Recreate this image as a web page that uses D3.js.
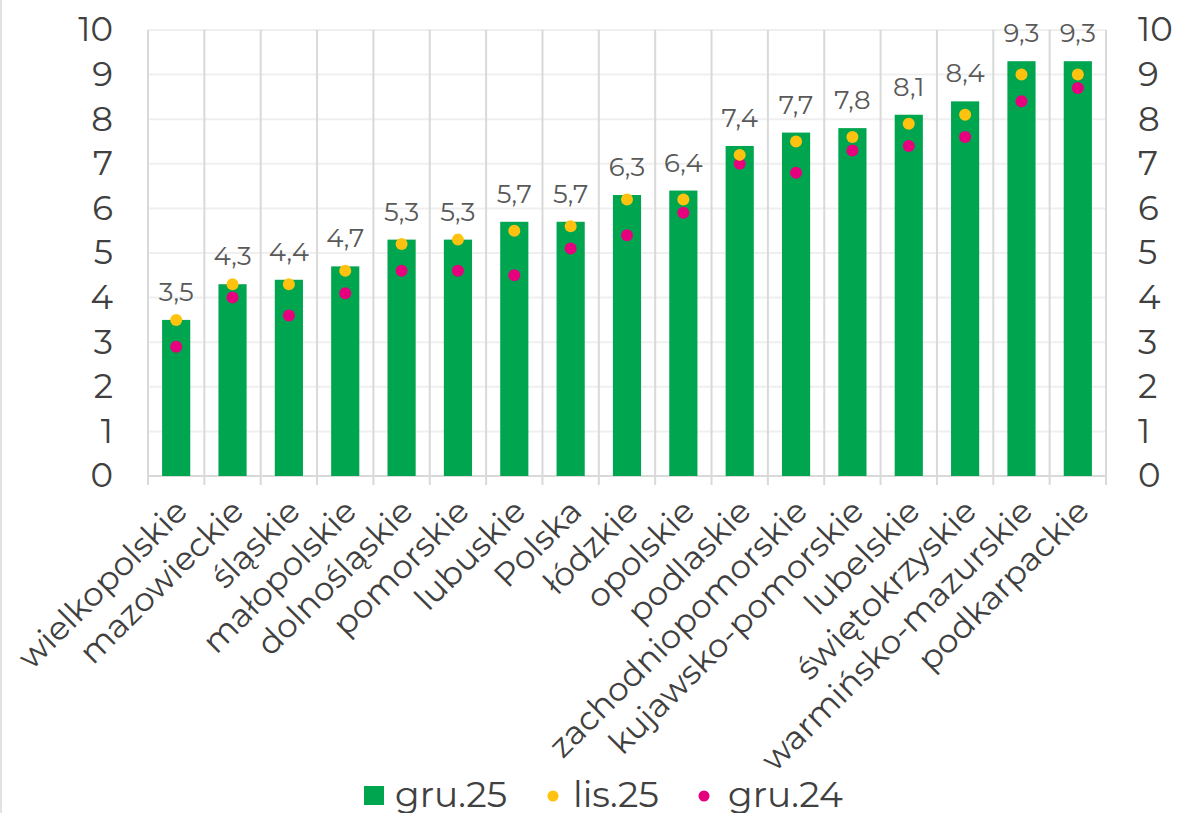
<!DOCTYPE html>
<html>
<head>
<meta charset="utf-8">
<script src="https://cdn.jsdelivr.net/npm/d3@7"></script>
<style>
  html, body { margin: 0; padding: 0; background: #fff; }
  svg { display: block; }
  text { font-family: "Montserrat", "Open Sans", sans-serif; }
</style>
</head>
<body>
<svg id="chart" width="1178" height="813"></svg>
<script>
const categories = ["wielkopolskie","mazowieckie","śląskie","małopolskie","dolnośląskie","pomorskie","lubuskie","Polska","łódzkie","opolskie","podlaskie","zachodniopomorskie","kujawsko-pomorskie","lubelskie","świętokrzyskie","warmińsko-mazurskie","podkarpackie"];
const gru25 = [3.5,4.3,4.4,4.7,5.3,5.3,5.7,5.7,6.3,6.4,7.4,7.7,7.8,8.1,8.4,9.3,9.3];
const lis25 = [3.5,4.3,4.3,4.6,5.2,5.3,5.5,5.6,6.2,6.2,7.2,7.5,7.6,7.9,8.1,9.0,9.0];
const gru24 = [2.9,4.0,3.6,4.1,4.6,4.6,4.5,5.1,5.4,5.9,7.0,6.8,7.3,7.4,7.6,8.4,8.7];
const yTicks = [0,1,2,3,4,5,6,7,8,9,10];
const seriesNames = ["gru.25","lis.25","gru.24"];

const colors = { bar: "#00A64F", lis: "#FFC20E", gru24: "#E6007E" };
const svg = d3.select("#chart");
const pLeft = 148, pRight = 1106, pTop = 30, pBottom = 476;

const x = d3.scaleBand().domain(categories).range([pLeft, pRight]).paddingInner(0.5).paddingOuter(0.25);
const xb = d3.scaleLinear().domain([0, categories.length]).range([pLeft, pRight]);
const y = d3.scaleLinear().domain([0, 10]).range([pBottom, pTop]);
const pl = d3.formatLocale({decimal: ",", thousands: " ", grouping: [3], currency: ["", " zł"]});
const fmt = pl.format(".1f");

// chart border line at left
svg.append("line").attr("x1", 1).attr("x2", 1).attr("y1", 0).attr("y2", 813)
  .attr("stroke", "#d9d9d9").attr("stroke-width", 1.5);

// horizontal gridlines
svg.append("g").selectAll("line").data(yTicks.filter(d => d > 0)).join("line")
  .attr("x1", pLeft).attr("x2", pRight)
  .attr("y1", d => y(d)).attr("y2", d => y(d))
  .attr("stroke", "#efefef").attr("stroke-width", 2);

// vertical gridlines + ticks
const bounds = d3.range(categories.length + 1);
svg.append("g").selectAll("line").data(bounds).join("line")
  .attr("x1", d => xb(d)).attr("x2", d => xb(d))
  .attr("y1", pTop).attr("y2", pBottom + 9)
  .attr("stroke", "#d9d9d9").attr("stroke-width", 2);

// x axis line
svg.append("line").attr("x1", pLeft).attr("x2", pRight).attr("y1", pBottom).attr("y2", pBottom)
  .attr("stroke", "#d9d9d9").attr("stroke-width", 2);

// bars
svg.append("g").selectAll("rect").data(categories).join("rect")
  .attr("x", d => x(d)).attr("width", x.bandwidth())
  .attr("y", (d, i) => y(gru25[i])).attr("height", (d, i) => y(0) - y(gru25[i]))
  .attr("fill", colors.bar);

// data labels
svg.append("g").selectAll("text").data(categories).join("text")
  .attr("x", d => x(d) + x.bandwidth() / 2)
  .attr("y", (d, i) => y(gru25[i]) - 19)
  .attr("text-anchor", "middle")
  .attr("font-size", 26).attr("fill", "#595959")
  .text((d, i) => fmt(gru25[i]));

// dots gru24
svg.append("g").selectAll("circle").data(categories).join("circle")
  .attr("cx", d => x(d) + x.bandwidth() / 2)
  .attr("cy", (d, i) => y(gru24[i])).attr("r", 6)
  .attr("fill", colors.gru24);
// dots lis25
svg.append("g").selectAll("circle").data(categories).join("circle")
  .attr("cx", d => x(d) + x.bandwidth() / 2)
  .attr("cy", (d, i) => y(lis25[i])).attr("r", 6)
  .attr("fill", colors.lis);

// y axes
const yl = svg.append("g").attr("transform", `translate(${pLeft},0)`)
  .call(d3.axisLeft(y).tickValues(yTicks).tickSize(0).tickPadding(35).tickFormat(d3.format("d")));
const yr = svg.append("g").attr("transform", `translate(${pRight},0)`)
  .call(d3.axisRight(y).tickValues(yTicks).tickSize(0).tickPadding(32).tickFormat(d3.format("d")));
[yl, yr].forEach(g => {
  g.select(".domain").remove();
  g.selectAll("text").attr("font-size", 34).attr("fill", "#404040")
    .attr("font-family", '"Montserrat", "Open Sans", sans-serif');
});

// category labels
svg.append("g").selectAll("text").data(categories).join("text")
  .attr("transform", d => `translate(${x(d) + x.bandwidth() / 2 + 5},${pBottom + 29}) rotate(-45)`)
  .attr("text-anchor", "end").attr("dy", "0.35em")
  .attr("font-size", 33).attr("fill", "#404040")
  .text(d => d);

// legend
const legend = svg.append("g").attr("transform", "translate(0,795)");
const lg1 = legend.append("g").attr("transform", "translate(364,0)");
lg1.append("rect").attr("x", 0).attr("y", -9).attr("width", 20).attr("height", 19).attr("fill", colors.bar);
lg1.append("text").attr("x", 31).attr("dy", "0.33em").attr("font-size", 36).attr("fill", "#404040").text(seriesNames[0]);
const lg2 = legend.append("g").attr("transform", "translate(553,1)");
lg2.append("circle").attr("r", 5.5).attr("fill", colors.lis);
lg2.append("text").attr("x", 20).attr("dy", "0.3em").attr("font-size", 36).attr("fill", "#404040").text(seriesNames[1]);
const lg3 = legend.append("g").attr("transform", "translate(704,1)");
lg3.append("circle").attr("r", 5.5).attr("fill", colors.gru24);
lg3.append("text").attr("x", 24).attr("dy", "0.3em").attr("font-size", 36).attr("fill", "#404040").text(seriesNames[2]);
</script>
</body>
</html>
